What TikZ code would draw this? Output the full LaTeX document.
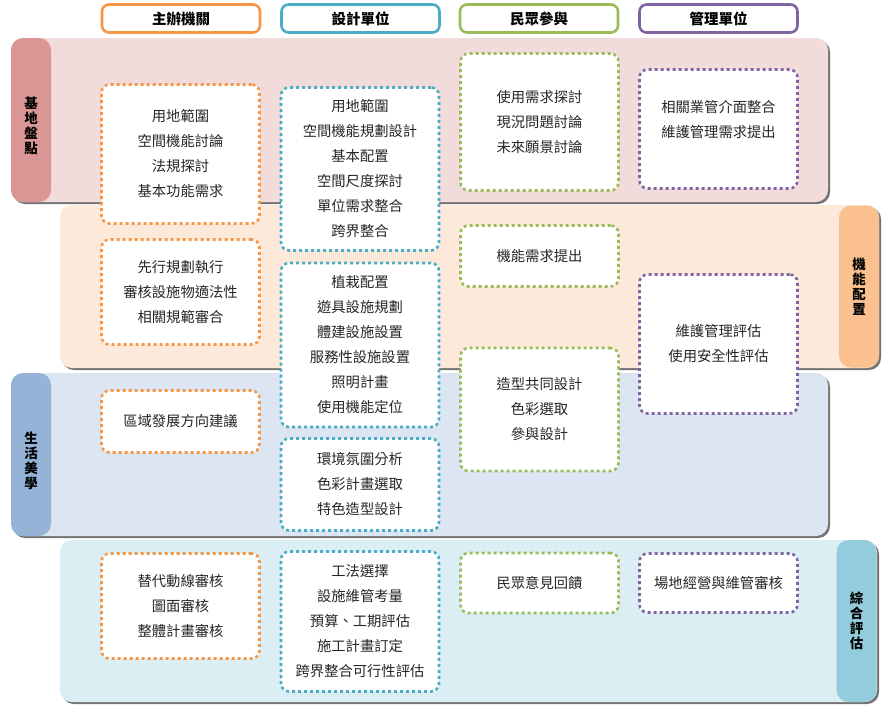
\documentclass[tikz,border=0pt]{standalone}
\usepackage{fontspec}
\setmainfont{Noto Sans CJK TC}
\usetikzlibrary{positioning}
\definecolor{orgcol}{HTML}{F79646}
\definecolor{blucol}{HTML}{4BACC6}
\definecolor{grncol}{HTML}{9BBB59}
\definecolor{purcol}{HTML}{8064A2}
\definecolor{pinkband}{HTML}{F2DCDB}
\definecolor{pinktab}{HTML}{D99694}
\definecolor{peachband}{HTML}{FDE9D9}
\definecolor{peachtab}{HTML}{FAC08F}
\definecolor{blueband}{HTML}{DCE6F2}
\definecolor{bluetab}{HTML}{95B3D7}
\definecolor{tealband}{HTML}{DAEEF3}
\definecolor{tealtab}{HTML}{93CDDD}
\tikzset{
  head/.style={draw, line width=2.6pt, rounded corners=7pt, fill=white,
    minimum width=158pt, minimum height=28pt,
    font=\fontsize{14.5}{16}\selectfont\bfseries},
  item/.style={draw, line width=2.6pt, dash pattern=on 3pt off 3pt,
    rounded corners=8pt, fill=white, minimum width=158pt, align=center,
    font=\fontsize{14.3}{25}\selectfont, text=black!85},
  tab/.style={rounded corners=12pt, minimum width=40pt, align=center,
    inner sep=0pt, font=\fontsize{13.5}{15}\selectfont\bfseries},
  band/.style={rounded corners=12pt},
  bandshadow/.style={band, fill=black!55, shift={(2,2)}}
}
\begin{document}
\begin{tikzpicture}[x=1pt,y=-1pt]
\useasboundingbox (0,0) rectangle (888,707);

% bands
\fill[bandshadow] (11,38) rectangle (828,202);
\fill[band, pinkband] (11,38) rectangle (828,202);
\fill[bandshadow] (60,205) rectangle (879,368);
\fill[band, peachband] (60,205) rectangle (879,368);
\fill[bandshadow] (11,373) rectangle (828,536);
\fill[band, blueband] (11,373) rectangle (828,536);
\fill[bandshadow] (60,540) rectangle (877,702);
\fill[band, tealband] (60,540) rectangle (877,702);

\node[tab, fill=pinktab, minimum height=164pt] (site) at (31,120) {};
\node[tab] (sitetext) at (31,126) {基\\地\\盤\\點};
\node[tab, fill=peachtab, minimum height=162pt] (func) at (859,286.5) {機\\能\\配\\置};
\node[tab, fill=bluetab, minimum height=163pt] (life) at (31,454.5) {};
\node[tab] (lifetext) at (31,461) {生\\活\\美\\學};
\node[tab, fill=tealtab, minimum height=162pt] (eval) at (856.5,621) {綜\\合\\評\\估};

% column heads
\node[head, draw=orgcol] (host) at (181,18.5) {主辦機關};
\node[head, draw=blucol] (design) at (360.5,18.5) {設計單位};
\node[head, draw=grncol] (public) at (539,18.5) {民眾參與};
\node[head, draw=purcol] (manage) at (718.5,18.5) {管理單位};

% host
\node[item, draw=orgcol, minimum height=139pt] (hostA) at (180.5,154) {用地範圍\\空間機能討論\\法規探討\\基本功能需求};
\node[item, draw=orgcol, minimum height=105pt] (hostB) at (180.5,292) {先行規劃執行\\審核設施物適法性\\相關規範審合};
\node[item, draw=orgcol, minimum height=62pt] (hostC) at (180.5,421.5) {區域發展方向建議};
\node[item, draw=orgcol, minimum height=105pt] (hostD) at (180.5,606) {替代動線審核\\圖面審核\\整體計畫審核};

% design
\node[item, draw=blucol, minimum height=163pt] (designA) at (360,169) {用地範圍\\空間機能規劃設計\\基本配置\\空間尺度探討\\單位需求整合\\跨界整合};
\node[item, draw=blucol, minimum height=164pt] (designB) at (360,345) {植栽配置\\遊具設施規劃\\體建設施設置\\服務性設施設置\\照明計畫\\使用機能定位};
\node[item, draw=blucol, minimum height=92pt] (designC) at (360,484.5) {環境氛圍分析\\色彩計畫選取\\特色造型設計};
\node[item, draw=blucol, minimum height=140pt] (designD) at (360,621.5) {工法選擇\\設施維管考量\\預算、工期評估\\施工計畫訂定\\跨界整合可行性評估};

% public
\node[item, draw=grncol, minimum height=137pt] (publicA) at (539.5,122) {使用需求探討\\現況問題討論\\未來願景討論};
\node[item, draw=grncol, minimum height=61pt] (publicB) at (539.5,256) {機能需求提出};
\node[item, draw=grncol, minimum height=123pt] (publicC) at (539.5,409.5) {造型共同設計\\色彩選取\\參與設計};
\node[item, draw=grncol, minimum height=60pt] (publicD) at (539.5,583) {民眾意見回饋};

% manage
\node[item, draw=purcol, minimum height=119pt] (manageA) at (718.5,129) {};
\node[align=center, font=\fontsize{14.3}{25}\selectfont, text=black!85] (manageAtext) at (718.5,120) {相關業管介面整合\\維護管理需求提出};
\node[item, draw=purcol, minimum height=139pt] (manageB) at (718.5,344) {維護管理評估\\使用安全性評估};
\node[item, draw=purcol, minimum height=59pt] (manageC) at (718.5,583) {場地經營與維管審核};
\end{tikzpicture}
\end{document}
